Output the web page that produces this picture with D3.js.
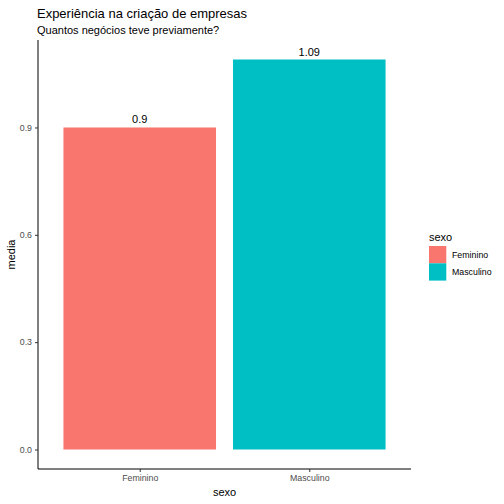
<!DOCTYPE html>
<html>
<head>
<meta charset="utf-8">
<script src="https://cdn.jsdelivr.net/npm/d3@7"></script>
<style>
  body { margin: 0; background: #fff; }
  text { font-family: "Liberation Sans", Arial, sans-serif; }
</style>
</head>
<body>
<div id="chart"></div>
<script>
// data
const categorias = ["Feminino", "Masculino"];
const medias = [0.9, 1.09];
const rotulos = ["0.9", "1.09"];
const cores = ["#F8766D", "#00BFC4"];
const yTicks = [0.0, 0.3, 0.6, 0.9];

const W = 504, H = 504;
const margin = { top: 40, right: 93, bottom: 35, left: 38 };
const width = W - margin.left - margin.right;
const height = H - margin.top - margin.bottom;

const svg = d3.select("#chart").append("svg")
    .attr("width", W)
    .attr("height", H);

// titles
svg.append("text")
    .attr("x", 37).attr("y", 18)
    .attr("font-size", 13.5)
    .attr("textLength", 210)
    .attr("lengthAdjust", "spacingAndGlyphs")
    .attr("fill", "#000")
    .text("Experiência na criação de empresas");
svg.append("text")
    .attr("x", 37).attr("y", 34)
    .attr("font-size", 11)
    .attr("fill", "#000")
    .text("Quantos negócios teve previamente?");

const g = svg.append("g")
    .attr("transform", `translate(${margin.left},${margin.top})`);

// ggplot-like expansion (5% each side)
const ymax = d3.max(medias);
const y = d3.scaleLinear()
    .domain([-0.05 * ymax, ymax * 1.05])
    .range([height, 0]);

// discrete x: 0.6 units padding each side, bars 0.9 wide
const unit = width / 2.2;
const xPos = d3.scalePoint()
    .domain(categorias)
    .range([0.6 * unit, 1.6 * unit]);
const bw = 0.9 * unit;

g.selectAll(".bar")
    .data(categorias)
    .enter().append("rect")
    .attr("class", "bar")
    .attr("x", d => xPos(d) - bw / 2)
    .attr("width", bw)
    .attr("y", (d, i) => y(medias[i]))
    .attr("height", (d, i) => y(0) - y(medias[i]))
    .attr("fill", (d, i) => cores[i]);

g.selectAll(".lbl")
    .data(categorias)
    .enter().append("text")
    .attr("class", "lbl")
    .attr("x", d => xPos(d))
    .attr("y", (d, i) => y(medias[i]) - 4)
    .attr("text-anchor", "middle")
    .attr("font-size", 11)
    .attr("fill", "#000")
    .text((d, i) => rotulos[i]);

// y axis
const yAxis = g.append("g")
    .call(d3.axisLeft(y).tickValues(yTicks).tickFormat(d3.format(".1f")).tickSize(3).tickPadding(3));
yAxis.select(".domain").attr("stroke", "#000").attr("stroke-width", 1).attr("d", `M0,0V${height}`);
yAxis.selectAll(".tick line").attr("stroke", "#333");
yAxis.selectAll(".tick text").attr("fill", "#4d4d4d").attr("font-size", 8.8)
    .style("font-family", "Liberation Sans, Arial, sans-serif");

// x axis
const xAxis = g.append("g")
    .attr("transform", `translate(0,${height})`)
    .call(d3.axisBottom(xPos).tickSize(3).tickPadding(3));
xAxis.select(".domain").attr("stroke", "#000").attr("stroke-width", 1).attr("d", `M0,0H${width}`);
xAxis.selectAll(".tick line").attr("stroke", "#333");
xAxis.selectAll(".tick text").attr("fill", "#4d4d4d").attr("font-size", 8.8)
    .style("font-family", "Liberation Sans, Arial, sans-serif");

// axis titles
svg.append("text")
    .attr("x", margin.left + width / 2).attr("y", 496)
    .attr("text-anchor", "middle")
    .attr("font-size", 11)
    .text("sexo");
svg.append("text")
    .attr("transform", `translate(15,${margin.top + height / 2}) rotate(-90)`)
    .attr("text-anchor", "middle")
    .attr("font-size", 11)
    .text("media");

// legend
const leg = svg.append("g").attr("transform", "translate(429,241)");
leg.append("text").attr("x", 0).attr("y", 0).attr("font-size", 11).text("sexo");
leg.selectAll(".key")
    .data(categorias)
    .enter().append("rect")
    .attr("x", 0)
    .attr("y", (d, i) => 5 + i * 17.3)
    .attr("width", 17.3).attr("height", 17.3)
    .attr("fill", (d, i) => cores[i]);
leg.selectAll(".ltxt")
    .data(categorias)
    .enter().append("text")
    .attr("x", 23)
    .attr("y", (d, i) => 5 + i * 17.3 + 12)
    .attr("font-size", 8.8)
    .text(d => d);
</script>
</body>
</html>
